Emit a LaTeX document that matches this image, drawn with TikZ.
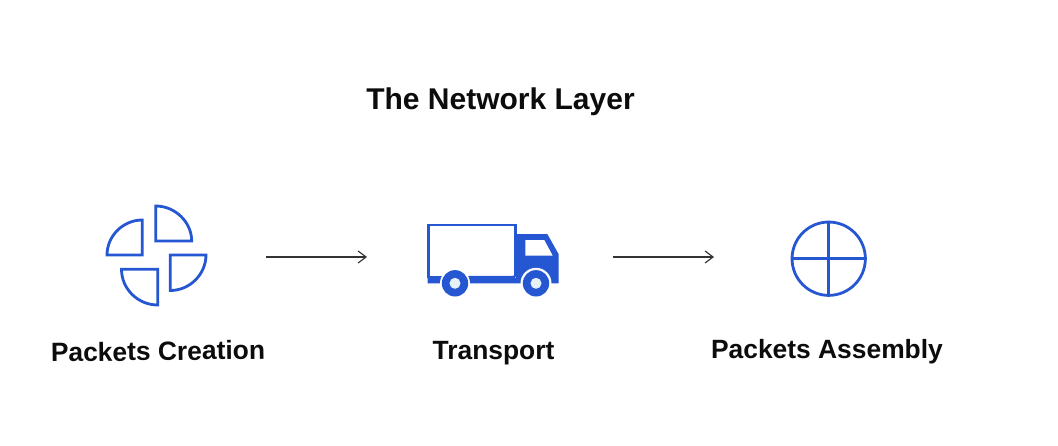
\documentclass[tikz,border=0pt]{standalone}
\usepackage{fontspec}
\setmainfont{Liberation Sans}
\usetikzlibrary{arrows.meta}
\definecolor{iconblue}{HTML}{2657D2}
\definecolor{hubpale}{HTML}{E6F1F7}
\definecolor{inkdark}{HTML}{0C0C0C}
\definecolor{linedark}{HTML}{333333}
\tikzset{
  x=0.75pt,y=-0.75pt,
  label text/.style={font=\bfseries\fontsize{19.8}{22}\selectfont,text=inkdark,inner sep=0pt,anchor=center},
  icon line/.style={draw=iconblue,line width=2.1pt,line join=miter},
  flow/.style={draw=linedark,line width=0.85pt,-{Straight Barb[length=6pt,width=9pt,line width=0.85pt]}}
}
\begin{document}
\begin{tikzpicture}
\useasboundingbox (0,0) rectangle (1058,446);
\fill[white] (0,0) rectangle (1058,446);
% titles
\node[label text,font=\bfseries\fontsize{22.5}{24}\selectfont] (title) at (500.5,102) {The Network Layer};
\node[label text,rotate=0.8] (creation) at (158,351) {Packets Creation};
\node[label text] (transport) at (493.5,353) {Transport};
\node[label text] (assembly) at (827,352) {Packets Assembly};
% wedges
\draw[icon line] (155.7,241) -- (155.7,206) .. controls (175,206) and (191.7,222) .. (191.7,241) -- cycle;
\draw[icon line] (142.3,255) -- (142.3,220) .. controls (123,220) and (107,236) .. (107,255) -- cycle;
\draw[icon line] (170.3,255) -- (206,255) .. controls (206,274) and (190,290.5) .. (170.3,290.5) -- cycle;
\draw[icon line] (157.7,269.3) -- (121.5,269.3) .. controls (121.5,289) and (138,305) .. (157.7,305) -- cycle;
% truck
\fill[iconblue] (516,234) -- (547.3,234) -- (558.7,254.3) -- (558.7,283.3) -- (427.5,283.3) -- (427.5,278) -- (516,278) -- cycle;
\draw[draw=iconblue,line width=1.9pt] (428.3,277.5) -- (428.3,225) -- (515.3,225) -- (515.3,277);
\draw[draw=iconblue,line width=1.9pt] (428.3,277.5) -- (515.3,277);
\fill[white] (525.3,240) -- (544.3,240) -- (552.7,255.7) -- (525.3,255.7) -- cycle;
\foreach \cx/\hr in {455/15,536/15.5}{
  \fill[white] (\cx,283.3) circle[radius=\hr*0.75pt];
  \fill[iconblue] (\cx,283.3) circle[radius=13.2*0.75pt];
  \fill[hubpale] (\cx,283.3) circle[radius=5.5*0.75pt];
}
% assembly circle
\node[circle,draw=iconblue,line width=2.1pt,minimum size=55pt,inner sep=0pt] (whole) at (828.7,258.7) {};
\draw[icon line] (whole.north) -- (whole.south);
\draw[icon line] (whole.west) -- (whole.east);
% connectors
\coordinate (a1s) at (266,257);
\coordinate (a1e) at (367,257);
\coordinate (a2s) at (613,257);
\coordinate (a2e) at (714,257);
\draw[flow] (a1s) -- (a1e);
\draw[flow] (a2s) -- (a2e);
\end{tikzpicture}
\end{document}
